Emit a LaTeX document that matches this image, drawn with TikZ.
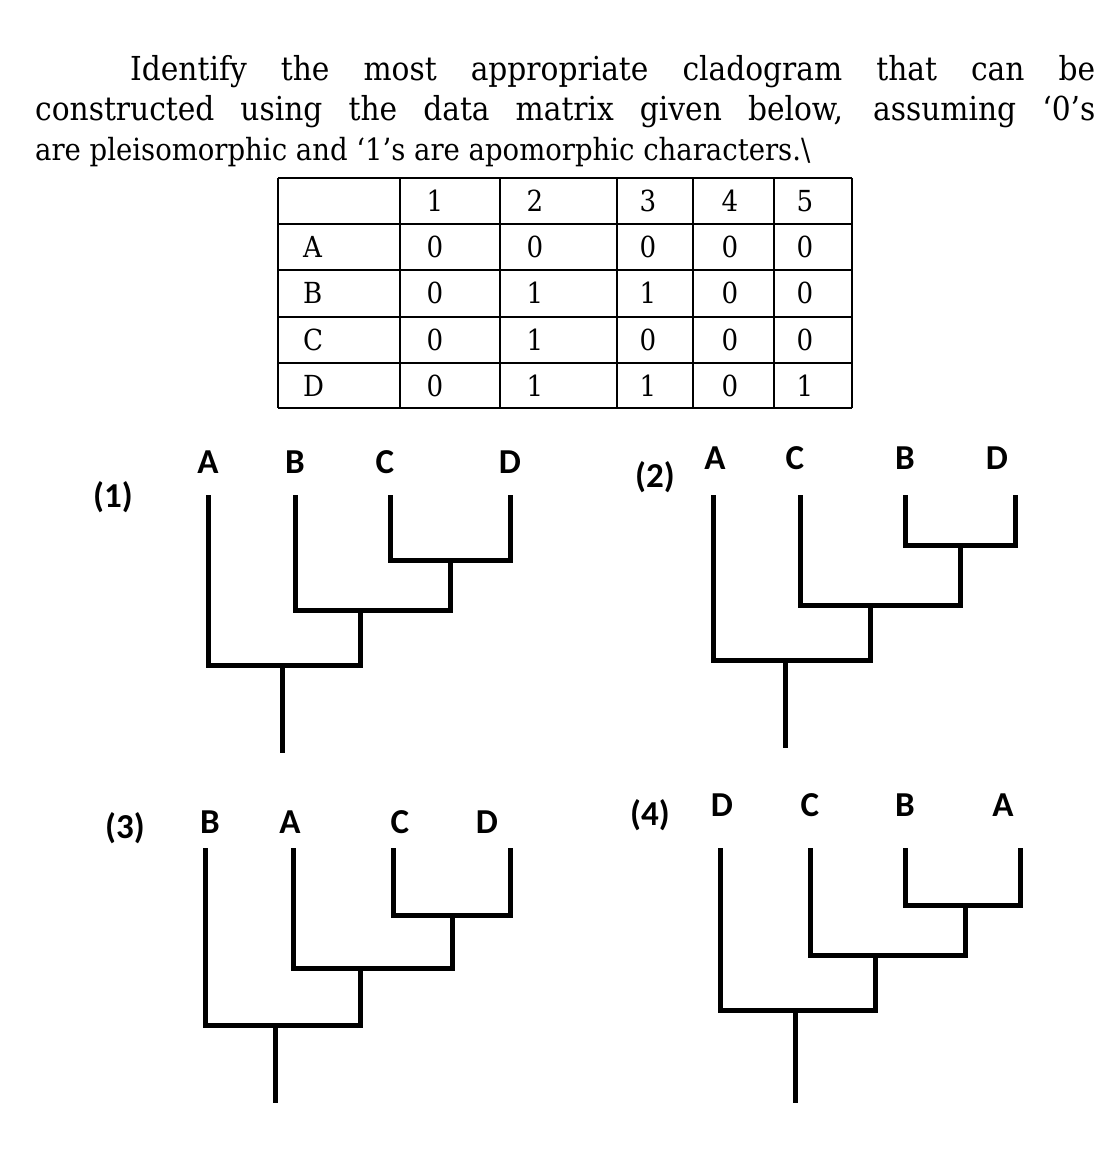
\documentclass[tikz,border=0pt]{standalone}
\usepackage{fontspec}
\setmainfont{DejaVu Serif Condensed}
\newfontfamily\lbl{Carlito}
\begin{document}
\begin{tikzpicture}[x=1pt,y=-1pt,
  br/.style={line width=5pt,line cap=rect},
  lab/.style={font=\lbl\bfseries\fontsize{35}{35}\selectfont,inner sep=0pt},
  num/.style={font=\fontsize{29}{29}\selectfont,inner sep=0pt},
  txt/.style={font=\fontsize{33}{33}\selectfont,inner sep=0pt,anchor=base west}]
\useasboundingbox (0,0) rectangle (1119,1159);
\node[txt] (l1) at (130,80) {\makebox[965pt][s]{Identify the most appropriate cladogram that can be}};
\node[txt] (l2) at (35,120) {\makebox[1060pt][s]{constructed using the data matrix given below, assuming ‘0’s}};
\node[txt] (l3) at (35,160) {\resizebox{775pt}{!}{are pleisomorphic and ‘1’s are apomorphic characters.\textbackslash}};
% table
\foreach \x in {278,400,500,617,693,774,852} \draw[line width=2.5pt] (\x,178) -- (\x,408);
\foreach \y in {178,224,270,317,363,408} \draw[line width=2.5pt] (278,\y) -- (852,\y);
\foreach \c/\x in {1/435,2/535,3/648,4/730,5/805} \node[num] (h\c) at (\x,201) {\c};
\foreach \r/\y in {A/247,B/293,C/340,D/386} \node[num,anchor=west] (r\r) at (303,\y) {\r};
\foreach \x/\v in {435/0,535/0,648/0,730/0,805/0} \node[num] at (\x,247) {\v};
\foreach \x/\v in {435/0,535/1,648/1,730/0,805/0} \node[num] at (\x,293) {\v};
\foreach \x/\v in {435/0,535/1,648/0,730/0,805/0} \node[num] at (\x,340) {\v};
\foreach \x/\v in {435/0,535/1,648/1,730/0,805/1} \node[num] at (\x,386) {\v};
% (1)
\node[lab] (p1) at (113,497) {(1)};
\foreach \n/\x in {A/208,B/295,C/385,D/510} \node[lab] (a\n) at (\x,462) {\n};
\draw[br] (208,497) -- (208,665) -- (360,665) -- (360,610) -- (295,610) -- (295,497);
\draw[br] (360,610) -- (450,610) -- (450,560) -- (390,560) -- (390,497);
\draw[br] (450,560) -- (510,560) -- (510,497);
\draw[br] (282,665) -- (282,750);
% (2)
\node[lab] (p2) at (655,477) {(2)};
\foreach \n/\x in {A/715,C/795,B/905,D/997} \node[lab] (b\n) at (\x,458) {\n};
\draw[br] (713,497) -- (713,660) -- (870,660) -- (870,605) -- (800,605) -- (800,497);
\draw[br] (870,605) -- (960,605) -- (960,545) -- (905,545) -- (905,497);
\draw[br] (960,545) -- (1015,545) -- (1015,497);
\draw[br] (785,660) -- (785,745);
% (3)
\node[lab] (p3) at (125,828) {(3)};
\foreach \n/\x in {B/210,A/290,C/400,D/487} \node[lab] (c\n) at (\x,822) {\n};
\draw[br] (205,850) -- (205,1025) -- (360,1025) -- (360,968) -- (293,968) -- (293,850);
\draw[br] (360,968) -- (452,968) -- (452,915) -- (393,915) -- (393,850);
\draw[br] (452,915) -- (510,915) -- (510,850);
\draw[br] (275,1025) -- (275,1100);
% (4)
\node[lab] (p4) at (650,815) {(4)};
\foreach \n/\x in {D/722,C/810,B/905,A/1003} \node[lab] (d\n) at (\x,805) {\n};
\draw[br] (720,850) -- (720,1010) -- (875,1010) -- (875,955) -- (810,955) -- (810,850);
\draw[br] (875,955) -- (965,955) -- (965,905) -- (905,905) -- (905,850);
\draw[br] (965,905) -- (1020,905) -- (1020,850);
\draw[br] (795,1010) -- (795,1100);
\end{tikzpicture}
\end{document}
